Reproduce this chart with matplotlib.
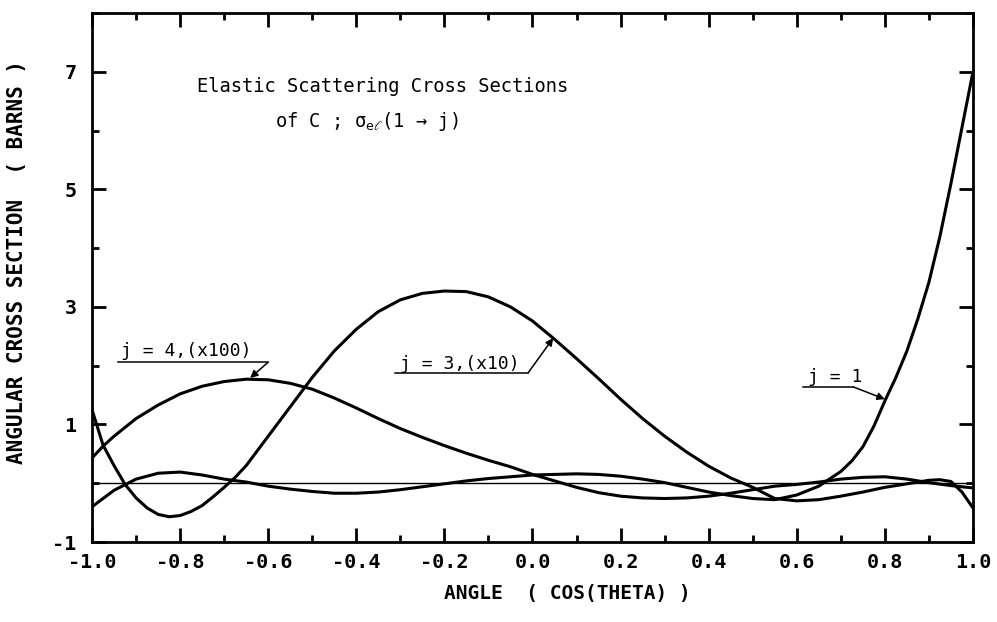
import matplotlib
matplotlib.use('Agg')
import matplotlib.pyplot as plt
from matplotlib.ticker import MultipleLocator

# values (cos theta, barns)
cos_j1 = [-1.0, -0.95, -0.9, -0.85, -0.8, -0.75, -0.7, -0.65, -0.6, -0.55,
          -0.5, -0.45, -0.4, -0.35, -0.3, -0.25, -0.2, -0.15, -0.1, -0.05,
          0.0, 0.05, 0.1, 0.15, 0.2, 0.25, 0.3, 0.35, 0.4, 0.45,
          0.5, 0.55, 0.6, 0.65, 0.7, 0.725, 0.75, 0.775, 0.8, 0.825,
          0.85, 0.875, 0.9, 0.925, 0.95, 0.975, 1.0]
sig_j1 = [-0.40, -0.12, 0.07, 0.17, 0.19, 0.14, 0.07, 0.02, -0.05, -0.10,
          -0.14, -0.17, -0.17, -0.15, -0.11, -0.06, -0.01, 0.04, 0.08, 0.11,
          0.14, 0.15, 0.16, 0.15, 0.12, 0.07, 0.01, -0.07, -0.15, -0.21,
          -0.26, -0.28, -0.20, -0.05, 0.20, 0.38, 0.62, 0.97, 1.40, 1.80,
          2.25, 2.80, 3.42, 4.20, 5.10, 6.05, 7.0]

cos_j3 = [-1.0, -0.975, -0.95, -0.925, -0.9, -0.875, -0.85, -0.825, -0.8, -0.775,
          -0.75, -0.725, -0.7, -0.675, -0.65, -0.6, -0.55, -0.5, -0.45, -0.4,
          -0.35, -0.3, -0.25, -0.2, -0.15, -0.1, -0.05, 0.0, 0.05, 0.1,
          0.15, 0.2, 0.25, 0.3, 0.35, 0.4, 0.45, 0.5, 0.55, 0.6,
          0.65, 0.7, 0.75, 0.8, 0.85, 0.9, 0.925, 0.95, 0.975, 1.0]
sig_j3 = [1.25, 0.65, 0.30, -0.02, -0.25, -0.42, -0.53, -0.57, -0.55, -0.48,
          -0.38, -0.23, -0.07, 0.10, 0.30, 0.80, 1.30, 1.80, 2.25, 2.62,
          2.92, 3.12, 3.23, 3.27, 3.26, 3.17, 3.00, 2.76, 2.45, 2.12,
          1.78, 1.43, 1.10, 0.80, 0.53, 0.29, 0.09, -0.07, -0.26, -0.30,
          -0.28, -0.22, -0.15, -0.07, -0.01, 0.05, 0.06, 0.03, -0.15, -0.42]

cos_j4 = [-1.0, -0.975, -0.95, -0.9, -0.85, -0.8, -0.75, -0.7, -0.65, -0.6,
          -0.55, -0.5, -0.45, -0.4, -0.35, -0.3, -0.25, -0.2, -0.15, -0.1,
          -0.05, 0.0, 0.05, 0.1, 0.15, 0.2, 0.25, 0.3, 0.35, 0.4,
          0.45, 0.5, 0.55, 0.6, 0.65, 0.7, 0.75, 0.8, 0.85, 0.9, 0.95, 1.0]
sig_j4 = [0.43, 0.63, 0.80, 1.10, 1.33, 1.52, 1.65, 1.73, 1.77, 1.76,
          1.70, 1.60, 1.45, 1.28, 1.10, 0.93, 0.78, 0.64, 0.51, 0.39,
          0.28, 0.15, 0.04, -0.07, -0.16, -0.22, -0.25, -0.26, -0.25, -0.22,
          -0.17, -0.11, -0.05, -0.02, 0.02, 0.07, 0.10, 0.11, 0.07, 0.01, -0.04, -0.08]

xticks = [-1.0, -0.8, -0.6, -0.4, -0.2, 0.0, 0.2, 0.4, 0.6, 0.8, 1.0]
xtick_labels = ['-1.0', '-0.8', '-0.6', '-0.4', '-0.2', '0.0',
                '0.2', '0.4', '0.6', '0.8', '1.0']
yticks = [-1, 1, 3, 5, 7]
ytick_labels = ['-1', '1', '3', '5', '7']

MONO = 'DejaVu Sans Mono'


def tag(ax, text, tx, ty, u0, u1, uy, tip):
    '''Underlined curve label with an arrow from the end of the underline.'''
    ax.text(tx, ty, text, family=MONO, fontsize=13, va='baseline')
    ax.plot([u0, u1], [uy, uy], color='k', lw=1.1)
    ax.annotate('', xy=tip, xytext=(u1, uy),
                arrowprops=dict(arrowstyle='-|>', color='k', lw=1.1,
                                mutation_scale=11, shrinkA=0, shrinkB=0))


fig = plt.figure(figsize=(9.97, 6.22), dpi=100)
ax = fig.add_axes([0.0923, 0.1286, 0.8836, 0.8505])

ax.axhline(0, color='k', lw=1.0)
for x, y in [(cos_j1, sig_j1), (cos_j3, sig_j3), (cos_j4, sig_j4)]:
    ax.plot(x, y, color='k', lw=2.2, solid_capstyle='round',
            solid_joinstyle='round')

ax.set_xlim(-1, 1)
ax.set_ylim(-1, 8)
ax.set_xticks(xticks)
ax.set_xticklabels(xtick_labels)
ax.set_yticks(yticks)
ax.set_yticklabels(ytick_labels)
ax.xaxis.set_minor_locator(MultipleLocator(0.1))
ax.yaxis.set_minor_locator(MultipleLocator(1))
ax.tick_params(which='both', direction='in', top=True, right=True,
               color='k', width=2)
ax.tick_params(which='major', length=10)
ax.tick_params(which='minor', length=5)
ax.tick_params(axis='x', pad=8)
ax.tick_params(axis='y', pad=11)
for lab in ax.get_xticklabels() + ax.get_yticklabels():
    lab.set_family(MONO)
    lab.set_fontsize(14.5)
    lab.set_fontweight('bold')
for sp in ax.spines.values():
    sp.set_linewidth(2)

ax.set_xlabel('ANGLE  ( COS(THETA) )', family=MONO, fontsize=14,
              fontweight='bold', va='center')
ax.xaxis.set_label_coords(0.54, -0.097)
ax.set_ylabel('ANGULAR CROSS SECTION  ( BARNS )', family=MONO, fontsize=15,
              fontweight='bold', va='center')
ax.yaxis.set_label_coords(-0.085, 0.529)

ax.text(-0.762, 6.66, 'Elastic Scattering Cross Sections',
        family=MONO, fontsize=13.5, va='baseline')
ax.text(-0.585, 6.06, r'of C ; $\mathregular{\sigma_{e\ell}}$(1 → j)',
        family=MONO, fontsize=13.5, va='baseline')

tag(ax, 'j = 4,(x100)', -0.934, 2.17, -0.941, -0.60, 2.06, (-0.641, 1.79))
tag(ax, 'j = 3,(x10)', -0.300, 1.95, -0.312, -0.010, 1.877, (0.047, 2.47))
tag(ax, 'j = 1', 0.625, 1.72, 0.614, 0.728, 1.64, (0.80, 1.43))

fig.savefig('out.png', dpi=100)
